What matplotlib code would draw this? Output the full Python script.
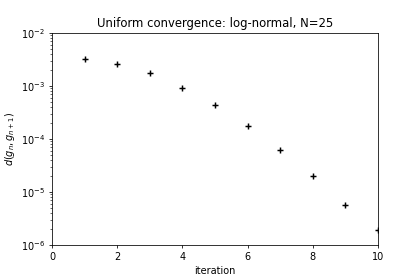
import matplotlib
matplotlib.use("Agg")
import matplotlib.pyplot as plt

iterations = [1, 2, 3, 4, 5, 6, 7, 8, 9, 10]
distances = [3.3e-3, 2.6e-3, 1.73e-3, 9.3e-4, 4.3e-4, 1.73e-4, 6.3e-5, 2.0e-5, 5.7e-6, 1.92e-6]

fig = plt.figure(figsize=(6, 4), dpi=70)
ax = fig.add_axes([0.124, 0.125, 0.776, 0.757])
ax.plot(iterations, distances, '+', color='black', markersize=7, markeredgewidth=1.5, clip_on=True)
ax.set_yscale('log')
ax.set_xlim(0, 10)
ax.set_ylim(1e-6, 1e-2)
ax.set_xlabel('iteration')
ax.set_ylabel(r'$d(g_n, g_{n+1})$')
ax.set_title('Uniform convergence: log-normal, N=25')
fig.savefig('out.png', dpi=70)
